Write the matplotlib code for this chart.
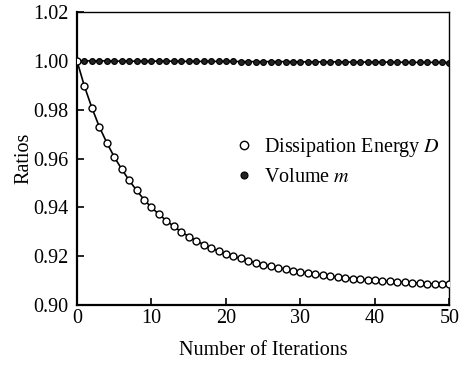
import matplotlib.pyplot as plt

plt.rcParams['font.family'] = ['Liberation Serif', 'DejaVu Serif']
plt.rcParams['mathtext.fontset'] = 'stix'

# data
iterations = list(range(0, 51))
dissipation = [1.0000, 0.9896, 0.9808, 0.9730, 0.9665, 0.9607, 0.9557, 0.9511, 0.9470, 0.9432,
               0.9400, 0.9372, 0.9346, 0.9322, 0.9300, 0.9281, 0.9264, 0.9248, 0.9234, 0.9221,
               0.9210, 0.9200, 0.9191, 0.9182, 0.9174, 0.9166, 0.9159, 0.9153, 0.9147, 0.9141,
               0.9136, 0.9131, 0.9127, 0.9123, 0.9119, 0.9115, 0.9112, 0.9109, 0.9106, 0.9103,
               0.9101, 0.9099, 0.9097, 0.9095, 0.9093, 0.9091, 0.9090, 0.9088, 0.9087, 0.9086,
               0.9085]
volume = [1.0000, 1.0000, 1.0000, 1.0000, 1.0000, 0.9999, 0.9999, 0.9999, 0.9999, 0.9999,
          0.9999, 0.9999, 0.9999, 0.9999, 0.9998, 0.9998, 0.9998, 0.9998, 0.9998, 0.9998,
          0.9998, 0.9998, 0.9997, 0.9997, 0.9997, 0.9997, 0.9997, 0.9997, 0.9997, 0.9997,
          0.9996, 0.9996, 0.9996, 0.9996, 0.9996, 0.9996, 0.9996, 0.9995, 0.9995, 0.9995,
          0.9995, 0.9995, 0.9995, 0.9995, 0.9994, 0.9994, 0.9994, 0.9994, 0.9994, 0.9994,
          0.9993]
xticks = [0, 10, 20, 30, 40, 50]
yticks = [0.90, 0.92, 0.94, 0.96, 0.98, 1.00, 1.02]

fs = 14.5

fig = plt.figure(figsize=(4.61, 3.65), dpi=100)
ax = fig.add_axes([0.167, 0.164, 0.808, 0.803])

ax.plot(iterations, volume, color='black', lw=1.2, marker='o', markersize=4.2,
        markerfacecolor='#222222', markeredgecolor='black', markeredgewidth=0.8,
        label='Volume $m$', zorder=2)
ax.plot(iterations, dissipation, color='black', lw=1.2, marker='o', markersize=5,
        markerfacecolor='white', markeredgecolor='black', markeredgewidth=1.0,
        label='Dissipation Energy $D$', zorder=3)

ax.set_xlim(0, 50)
ax.set_ylim(0.90, 1.02)
ax.set_xticks(xticks)
ax.set_yticks(yticks)
ax.set_yticklabels(['%.2f' % v for v in yticks])
ax.tick_params(direction='in', length=5, width=1.2, labelsize=fs)
ax.tick_params(axis='x', pad=3)
ax.tick_params(axis='y', pad=6)

for s in ['left', 'bottom']:
    ax.spines[s].set_linewidth(1.6)
for s in ['top', 'right']:
    ax.spines[s].set_linewidth(1.0)

ax.set_xlabel('Number of Iterations', fontsize=fs, labelpad=9)
ax.set_ylabel('Ratios', fontsize=fs, labelpad=0)

handles, labels = ax.get_legend_handles_labels()
ax.legend(handles[::-1], labels[::-1], loc='center right', bbox_to_anchor=(0.975, 0.49),
          frameon=False, fontsize=fs, handlelength=0.6, handletextpad=0.7,
          labelspacing=0.45, markerscale=1.2, borderpad=0, borderaxespad=0)
leg = ax.get_legend()
for h in leg.legend_handles:
    h.set_linestyle('none')

fig.savefig('out.png', dpi=100)
